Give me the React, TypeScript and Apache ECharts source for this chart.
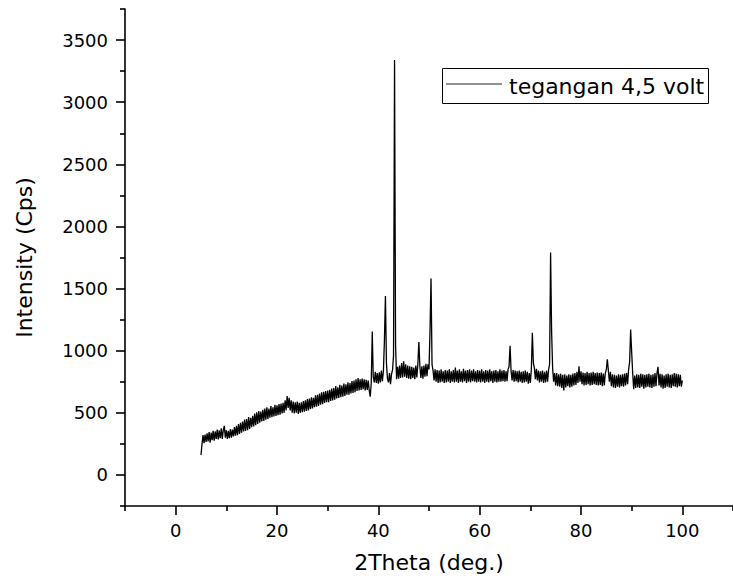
import React, { useEffect, useRef } from "react";
import * as echarts from "echarts";

// 2Theta sampling grid: starts at 5.0 deg, one reading every 0.2 deg
const startAngle = 5;
const stepDeg = 0.2;

// Intensity readings (Cps), 5 deg per block
const seg05 = [160, 250, 320, 255, 325, 265, 335, 270, 345, 260, 340, 280, 355, 275, 350, 290, 365, 285, 360, 295, 375, 290, 360, 395, 300];
const seg10 = [360, 290, 355, 295, 370, 300, 365, 310, 385, 315, 395, 320, 410, 330, 420, 340, 430, 350, 445, 355, 450, 360, 465, 370, 460];
const seg15 = [385, 475, 390, 495, 400, 505, 410, 515, 420, 510, 430, 525, 435, 535, 445, 545, 450, 535, 460, 555, 465, 545, 470, 565, 475];
const seg20 = [560, 480, 570, 485, 575, 495, 580, 500, 600, 520, 635, 540, 620, 520, 600, 500, 590, 495, 585, 500, 590, 490, 580, 500, 585];
const seg25 = [505, 595, 510, 600, 515, 610, 520, 615, 530, 625, 535, 620, 545, 640, 550, 645, 555, 655, 565, 665, 570, 670, 580, 675, 585];
const seg30 = [680, 585, 685, 595, 695, 600, 700, 605, 715, 615, 705, 620, 725, 625, 720, 630, 735, 635, 730, 645, 745, 645, 740, 655, 755];
const seg35 = [660, 760, 665, 770, 675, 780, 680, 770, 685, 775, 690, 770, 680, 765, 685, 760, 680, 630, 740, 1155, 790, 745, 830, 740, 820];
const seg40 = [735, 825, 745, 840, 755, 835, 1080, 1440, 900, 775, 745, 820, 730, 810, 845, 960, 3340, 1050, 770, 870, 775, 880, 780, 900, 785];
const seg45 = [915, 790, 890, 780, 880, 775, 875, 770, 870, 780, 865, 770, 880, 785, 895, 1070, 870, 780, 875, 775, 880, 790, 895, 795, 890];
const seg50 = [850, 1160, 1580, 890, 840, 760, 850, 750, 845, 740, 840, 745, 850, 750, 835, 740, 845, 745, 840, 750, 850, 740, 835, 750, 845];
const seg55 = [745, 865, 750, 840, 740, 850, 750, 835, 745, 855, 755, 840, 740, 845, 750, 850, 745, 840, 755, 850, 750, 835, 745, 845, 750];
const seg60 = [840, 745, 850, 750, 835, 740, 845, 750, 840, 745, 850, 755, 835, 740, 840, 750, 845, 745, 835, 750, 850, 750, 840, 755, 845];
const seg65 = [750, 835, 755, 850, 870, 1040, 840, 760, 845, 750, 840, 755, 835, 745, 840, 750, 830, 740, 835, 745, 840, 750, 830, 735, 820];
const seg70 = [740, 850, 1145, 900, 860, 770, 855, 760, 840, 745, 835, 750, 840, 740, 830, 745, 840, 750, 845, 890, 1790, 1150, 860, 750, 820];
const seg75 = [720, 820, 715, 810, 710, 815, 700, 805, 680, 810, 705, 800, 715, 810, 705, 805, 710, 815, 720, 820, 725, 830, 740, 875, 750];
const seg80 = [835, 730, 825, 720, 820, 725, 830, 730, 820, 720, 825, 725, 830, 730, 820, 725, 825, 720, 820, 725, 825, 715, 815, 720, 820];
const seg85 = [850, 930, 840, 750, 830, 715, 810, 705, 805, 700, 800, 710, 810, 705, 805, 715, 810, 710, 815, 720, 820, 730, 850, 910, 1170];
const seg90 = [990, 820, 690, 800, 700, 810, 705, 805, 700, 815, 710, 810, 695, 805, 705, 810, 710, 815, 705, 805, 700, 810, 710, 820, 715];
const seg95 = [820, 870, 720, 815, 705, 810, 695, 800, 700, 810, 710, 815, 705, 805, 700, 810, 715, 820, 710, 815, 705, 810, 715, 805, 710, 760];

const intensity = [
  ...seg05, ...seg10, ...seg15, ...seg20, ...seg25, ...seg30, ...seg35, ...seg40, ...seg45, ...seg50,
  ...seg55, ...seg60, ...seg65, ...seg70, ...seg75, ...seg80, ...seg85, ...seg90, ...seg95,
];

// Axis ticks
const xMajorTicks = [0, 20, 40, 60, 80, 100];
const xMinorTicks = [-10, 10, 30, 50, 70, 90, 110];
const yMajorTicks = [0, 500, 1000, 1500, 2000, 2500, 3000, 3500];
const yMinorTicks = [-250, 250, 750, 1250, 1750, 2250, 2750, 3250, 3750];

const seriesName = "tegangan 4,5 volt";
const xTitle = "2Theta (deg.)";
const yTitle = "Intensity (Cps)";

const FONT = "DejaVu Sans";

export default function App() {
  const ref = useRef<HTMLDivElement>(null);

  useEffect(() => {
    if (!ref.current) return;
    const chart = echarts.init(ref.current, undefined, { renderer: "svg" });
    const data = intensity.map((v, i) => [
      Math.round((startAngle + stepDeg * i) * 10) / 10,
      v,
    ]);
    const axisLineStyle = { color: "#000", width: 1.6 };
    const plain = (v: number) => String(v);
    chart.setOption({
      animation: false,
      backgroundColor: "#fff",
      textStyle: { fontFamily: FONT, color: "#000" },
      grid: { left: 125, top: 9, width: 614, height: 497, containLabel: false },
      xAxis: [
        {
          type: "value",
          min: -10,
          max: 110,
          position: "bottom",
          name: xTitle,
          nameLocation: "middle",
          nameGap: 45,
          nameTextStyle: { fontFamily: FONT, fontSize: 22, color: "#000" },
          axisLine: { show: true, onZero: false, lineStyle: axisLineStyle },
          axisTick: { show: true, length: 9, inside: false, customValues: xMajorTicks, lineStyle: axisLineStyle },
          axisLabel: { show: true, customValues: xMajorTicks, formatter: plain, margin: 15, fontFamily: FONT, fontSize: 18, color: "#000" },
          splitLine: { show: false },
        },
        {
          type: "value",
          min: -10,
          max: 110,
          position: "bottom",
          axisLine: { show: false, onZero: false },
          axisTick: { show: true, length: 5, inside: false, customValues: xMinorTicks, lineStyle: axisLineStyle },
          axisLabel: { show: false },
          splitLine: { show: false },
        },
      ],
      yAxis: [
        {
          type: "value",
          min: -250,
          max: 3750,
          position: "left",
          name: yTitle,
          nameLocation: "middle",
          nameGap: 90,
          nameRotate: 90,
          nameTextStyle: { fontFamily: FONT, fontSize: 22, color: "#000" },
          axisLine: { show: true, onZero: false, lineStyle: axisLineStyle },
          axisTick: { show: true, length: 9, inside: false, customValues: yMajorTicks, lineStyle: axisLineStyle },
          axisLabel: { show: true, customValues: yMajorTicks, formatter: plain, margin: 17, fontFamily: FONT, fontSize: 18, color: "#000" },
          splitLine: { show: false },
        },
        {
          type: "value",
          min: -250,
          max: 3750,
          position: "left",
          axisLine: { show: false, onZero: false },
          axisTick: { show: true, length: 5, inside: false, customValues: yMinorTicks, lineStyle: axisLineStyle },
          axisLabel: { show: false },
          splitLine: { show: false },
        },
      ],
      graphic: [
        {
          type: "group",
          z: 100,
          children: [
            {
              type: "rect",
              shape: { x: 442.5, y: 68.5, width: 266, height: 35 },
              style: { fill: "#fff", stroke: "#000", lineWidth: 1 },
            },
            {
              type: "line",
              shape: { x1: 446, y1: 84, x2: 502, y2: 84 },
              style: { stroke: "#222", lineWidth: 1 },
            },
            {
              type: "text",
              x: 509,
              y: 86,
              style: {
                text: seriesName,
                fontFamily: FONT,
                fontSize: 22,
                fill: "#000",
                verticalAlign: "middle",
                align: "left",
              },
            },
          ],
        },
      ],
      series: [
        {
          name: seriesName,
          type: "line",
          xAxisIndex: 0,
          yAxisIndex: 0,
          data,
          symbol: "none",
          showSymbol: false,
          sampling: undefined,
          lineStyle: { color: "#000", width: 1.3 },
          itemStyle: { color: "#000" },
          emphasis: { disabled: true },
        },
      ],
    });
    return () => chart.dispose();
  }, []);

  return (
    <div
      ref={ref}
      style={{ position: "fixed", left: 0, top: 0, width: 733, height: 587, background: "#fff" }}
    />
  );
}
